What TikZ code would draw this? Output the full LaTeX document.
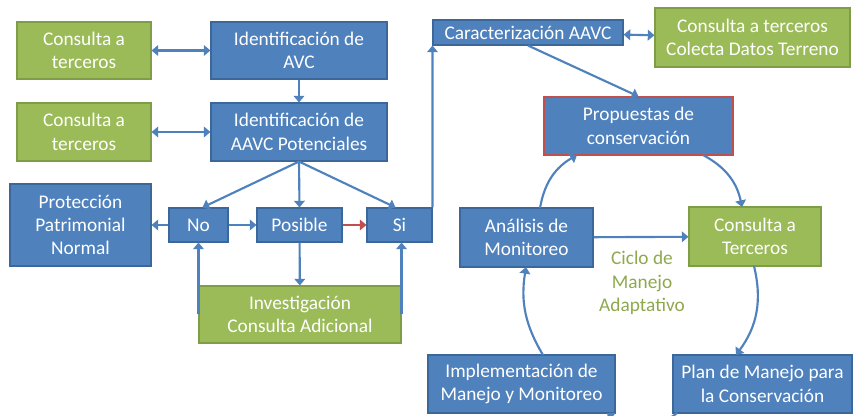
\documentclass[tikz,border=0pt]{standalone}
\usepackage{fontspec}
\setmainfont{Carlito}
\usetikzlibrary{arrows.meta}
\definecolor{boxblue}{HTML}{4F81BD}
\definecolor{blueline}{HTML}{3B679A}
\definecolor{boxgreen}{HTML}{9BBB59}
\definecolor{greenline}{HTML}{7F9D46}
\definecolor{cyclegreen}{HTML}{8EA84E}
\definecolor{linkred}{HTML}{C0504D}

\tikzset{
  wh/.style 2 args={minimum width=#1*0.75pt, minimum height=#2*0.75pt},
  bluebox/.style={draw=blueline, fill=boxblue, line width=0.8pt, text=white,
    align=center, inner sep=1pt, font=\fontsize{14.5}{17.5}\selectfont},
  greenbox/.style={bluebox, draw=greenline, fill=boxgreen},
  link/.style={draw=boxblue, line width=1.6pt,
    -{Triangle[length=5pt,width=8pt]}},
  dlink/.style={link, {Triangle[length=5pt,width=8pt]}-{Triangle[length=5pt,width=8pt]}}
}

\begin{document}
\begin{tikzpicture}[x=0.75pt, y=-0.75pt]
  \useasboundingbox (0,0) rectangle (853,416);
  \clip (0,0) rectangle (853,416);

  % Identificacion
  \node[greenbox, wh={134}{57}] (cons1) at (84,50.5) {Consulta a\\terceros};
  \node[bluebox, wh={176}{57}] (idavc) at (299,50.5) {Identificación de\\AVC};
  \node[greenbox, wh={134}{58}] (cons2) at (84,132) {Consulta a\\terceros};
  \node[bluebox, wh={176}{58}] (idaavc) at (299,132) {Identificación de\\AAVC Potenciales};

  % Decision
  \node[bluebox, wh={141}{82}] (prot) at (80.5,225) {Protección\\Patrimonial\\Normal};
  \node[bluebox, wh={59}{34}] (no) at (198.5,225) {No};
  \node[bluebox, wh={85}{34}] (posible) at (299.5,225) {Posible};
  \node[bluebox, wh={65}{34}] (si) at (399.5,225) {Si};
  \node[greenbox, wh={202}{57}] (invest) at (300,314.5) {Investigación\\Consulta Adicional};

  % Caracterizacion
  \node[bluebox, wh={190}{25}] (carac) at (528,32.5) {Caracterización AAVC};
  \node[greenbox, wh={195}{59}] (cons3) at (752.5,37.5) {Consulta a terceros\\Colecta Datos Terreno};
  \node[bluebox, draw=linkred, wh={189}{58}] (prop) at (638.5,126) {Propuestas de\\conservación};

  % Ciclo
  \node[bluebox, wh={133}{59}] (anal) at (526.5,237.5) {Análisis de\\Monitoreo};
  \node[greenbox, wh={132}{59}] (cons4) at (755,236.5) {Consulta a\\Terceros};
  \node[bluebox, wh={187}{58}] (impl) at (521.5,384) {Implementación de\\Manejo y Monitoreo};
  \node[bluebox, wh={179}{58}] (plan) at (762.5,384) {Plan de Manejo para\\la Conservación};
  \node[text=cyclegreen, align=center, font=\fontsize{14.5}{17.5}\selectfont] (ciclo)
    at (642,283) {Ciclo de\\Manejo\\Adaptativo};

  \draw[dlink] (cons1) -- (idavc);
  \draw[link] (idavc) -- (idaavc);
  \draw[dlink] (cons2) -- (idaavc);
  \draw[link] (idaavc.south) -- ([xshift=3pt]no.north);
  \draw[link] (idaavc.south) -- (posible.north);
  \draw[link] (idaavc.south) -- ([xshift=-3pt]si.north);
  \draw[link] (no) -- (prot);
  \draw[link] (no) -- (posible);
  \draw[link, draw=linkred] (posible) -- (si);
  \draw[link] (posible) -- (invest);
  \draw[link] (invest.west) -- (invest.west |- no.south);
  \draw[link] (invest.east) -- (invest.east |- si.south);
  \draw[link] (si.north east) -- (carac.south west);
  \draw[dlink] (carac) -- (cons3);
  \draw[link] (carac.south) -- (prop.north);

  \coordinate (analtop) at (540,208);
  \coordinate (propbl) at (577,155);
  \coordinate (propbr) at (703,155);
  \coordinate (constop) at (742,207);
  \coordinate (consbot) at (754,266);
  \coordinate (plantop) at (736,355);
  \coordinate (impltop) at (543,355);
  \coordinate (analbot) at (526,267);
  \coordinate (planbot) at (677,413);
  \coordinate (implbot) at (607,413);
  \draw[link] (anal) -- (cons4);
  \draw[link] (analtop) to[bend left=25] (propbl);
  \draw[link] (propbr) to[bend left=25] (constop);
  \draw[link] (consbot) to[bend left=25] (plantop);
  \draw[link] (impltop) to[bend left=20] (analbot);
  \draw[link] (planbot) to[bend left=40] (implbot);
\end{tikzpicture}
\end{document}
